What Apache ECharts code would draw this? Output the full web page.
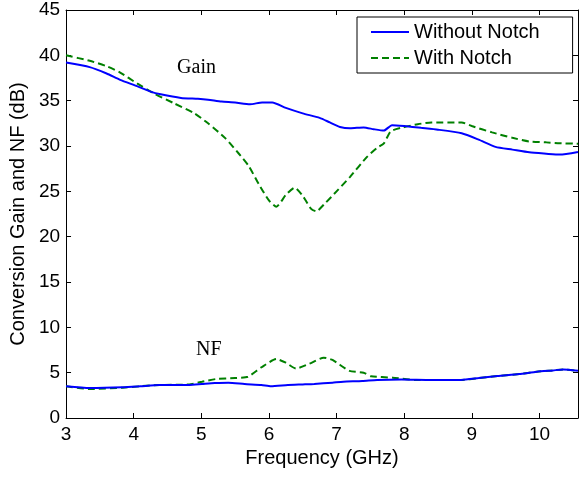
<!DOCTYPE html>
<html>
<head>
<meta charset="utf-8">
<script src="https://cdn.jsdelivr.net/npm/echarts@6/dist/echarts.min.js"></script>
<style>
html,body{margin:0;padding:0;background:#fff;}
#chart{width:579px;height:477px;}
</style>
</head>
<body>
<div id="chart"></div>
<script>
// Gain, without notch
const gainWithoutFreq = [3.0,3.35,3.6,3.8,4.05,4.25,4.4,4.7,4.95,5.1,5.3,5.5,5.72,5.9,6.05,6.25,6.5,6.75,6.9,7.05,7.2,7.4,7.55,7.7,7.82,8.0,8.25,8.5,8.85,9.1,9.35,9.6,9.85,10.1,10.3,10.57];
const gainWithoutVal  = [39.2,38.7,38.0,37.3,36.6,36.0,35.7,35.3,35.2,35.1,34.9,34.8,34.6,34.8,34.8,34.2,33.6,33.1,32.6,32.1,31.95,32.05,31.85,31.7,32.3,32.2,32.0,31.8,31.4,30.7,29.9,29.6,29.3,29.15,29.05,29.35];
// Gain, with notch
const gainWithFreq = [3.0,3.35,3.6,3.8,4.05,4.3,4.6,4.9,5.1,5.35,5.55,5.7,5.85,6.0,6.11,6.25,6.38,6.5,6.62,6.7,6.82,7.0,7.2,7.45,7.6,7.7,7.8,7.95,8.2,8.4,8.85,9.0,9.3,9.6,9.85,10.1,10.3,10.57];
const gainWithVal  = [40.0,39.4,38.8,38.1,36.9,35.8,34.7,33.6,32.5,30.9,29.2,27.8,25.8,24.0,23.3,24.6,25.4,24.5,23.1,22.8,23.6,25.0,26.6,28.8,29.8,30.3,31.6,32.0,32.4,32.6,32.6,32.2,31.5,30.9,30.5,30.4,30.3,30.25];
// NF, without notch
const nfWithoutFreq = [3.0,3.35,3.84,4.1,4.38,4.82,5.01,5.2,5.4,5.64,5.89,6.03,6.28,6.5,6.67,6.94,7.1,7.38,7.6,7.96,8.4,8.84,9.1,9.38,9.7,9.96,10.2,10.35,10.57];
const nfWithoutVal  = [3.5,3.3,3.38,3.5,3.64,3.65,3.75,3.85,3.9,3.75,3.64,3.5,3.64,3.7,3.75,3.9,4.0,4.08,4.2,4.26,4.2,4.2,4.4,4.63,4.85,5.1,5.25,5.35,5.2];
// NF, with notch
const nfWithFreq = [3.0,3.35,3.84,4.1,4.38,4.82,5.01,5.21,5.5,5.69,5.89,6.11,6.25,6.4,6.6,6.81,6.94,7.19,7.4,7.51,7.83,8.16,8.4,8.84,9.1,9.38,9.7,9.96,10.2,10.35,10.57];
const nfWithVal  = [3.5,3.2,3.35,3.5,3.64,3.7,4.0,4.29,4.4,4.55,5.6,6.5,6.1,5.45,6.0,6.65,6.4,5.2,5.0,4.6,4.45,4.2,4.2,4.2,4.4,4.63,4.85,5.1,5.25,5.35,5.2];

const seriesNames = ['Without Notch','With Notch'];
const xTicks = [3,4,5,6,7,8,9,10];
const annotations = [
  {text:'Gain', x:4.93, y:38.6},
  {text:'NF',   x:5.11, y:7.5}
];

function pairs(xs, ys){ return xs.map((x,i)=>[x, ys[i]]); }

const FONT = 'Liberation Sans, Arial, sans-serif';
const BLUE = '#0000ff', GREEN = '#008000';

const chart = echarts.init(document.getElementById('chart'), null, {renderer:'canvas'});

const tickFmt = v => (xTicks.indexOf(Math.round(v*1000)/1000) >= 0 ? String(v) : '');

chart.setOption({
  animation:false,
  backgroundColor:'#fff',
  grid:{left:61, right:1, top:10, bottom:59, containLabel:false},
  legend:{
    show:true,
    data:[seriesNames[0], seriesNames[1]],
    orient:'vertical',
    left:357, top:17,
    padding:[5,33,5,13],
    itemGap:6,
    itemWidth:38, itemHeight:14,
    itemTextGap:20,
    borderColor:'#000', borderWidth:1,
    backgroundColor:'#fff',
    itemStyle:{color:'rgba(0,0,0,0)', borderWidth:0, opacity:0},
    textStyle:{fontFamily:FONT, fontSize:20, color:'#000', lineHeight:20}
  },
  xAxis:[{
    type:'value', min:3, max:10.57, interval:1,
    name:'Frequency (GHz)', nameLocation:'middle', nameGap:26,
    nameTextStyle:{fontFamily:FONT, fontSize:20, color:'#000'},
    axisLine:{show:true, onZero:false, lineStyle:{color:'#000', width:1}},
    axisTick:{show:true, inside:true, length:5, lineStyle:{color:'#000'}},
    axisLabel:{fontFamily:FONT, fontSize:19, color:'#000', margin:7, formatter:tickFmt, showMaxLabel:false},
    splitLine:{show:false}
  },{
    type:'value', min:3, max:10.57, interval:1, position:'top',
    axisLine:{show:true, onZero:false, lineStyle:{color:'#000', width:1}},
    axisTick:{show:true, inside:true, length:5, lineStyle:{color:'#000'}},
    axisLabel:{show:false}, splitLine:{show:false}
  }],
  yAxis:[{
    type:'value', min:0, max:45, interval:5,
    name:'Conversion Gain and NF (dB)', nameLocation:'middle', nameGap:36,
    nameTextStyle:{fontFamily:FONT, fontSize:20, color:'#000'},
    axisLine:{show:true, onZero:false, lineStyle:{color:'#000', width:1}},
    axisTick:{show:true, inside:true, length:5, lineStyle:{color:'#000'}},
    axisLabel:{fontFamily:FONT, fontSize:19, color:'#000', margin:6},
    splitLine:{show:false}
  },{
    type:'value', min:0, max:45, interval:5, position:'right',
    axisLine:{show:true, onZero:false, lineStyle:{color:'#000', width:1}},
    axisTick:{show:true, inside:true, length:5, lineStyle:{color:'#000'}},
    axisLabel:{show:false}, splitLine:{show:false}
  }],
  series:[
    {name:seriesNames[1], type:'line', data:pairs(gainWithFreq, gainWithVal), symbol:'none', smooth:0.2,
     lineStyle:{color:GREEN, width:2, type:[7,4]}, itemStyle:{color:GREEN}, z:2,
     markPoint:{symbol:'circle', symbolSize:0, silent:true,
       data:annotations.map(a=>({coord:[a.x,a.y], value:a.text,
         label:{show:true, position:'inside', formatter:a.text, fontFamily:'Liberation Serif, Times New Roman, serif', fontSize:20, color:'#000'}}))}},
    {name:seriesNames[1], type:'line', data:pairs(nfWithFreq, nfWithVal), symbol:'none', smooth:0.2,
     lineStyle:{color:GREEN, width:2, type:[7,4]}, itemStyle:{color:GREEN}, z:2},
    {name:seriesNames[0], type:'line', data:pairs(gainWithoutFreq, gainWithoutVal), symbol:'none', smooth:0.2,
     lineStyle:{color:BLUE, width:2}, itemStyle:{color:BLUE}, z:3},
    {name:seriesNames[0], type:'line', data:pairs(nfWithoutFreq, nfWithoutVal), symbol:'none', smooth:0.2,
     lineStyle:{color:BLUE, width:2}, itemStyle:{color:BLUE}, z:3}
  ]
});
</script>
</body>
</html>
